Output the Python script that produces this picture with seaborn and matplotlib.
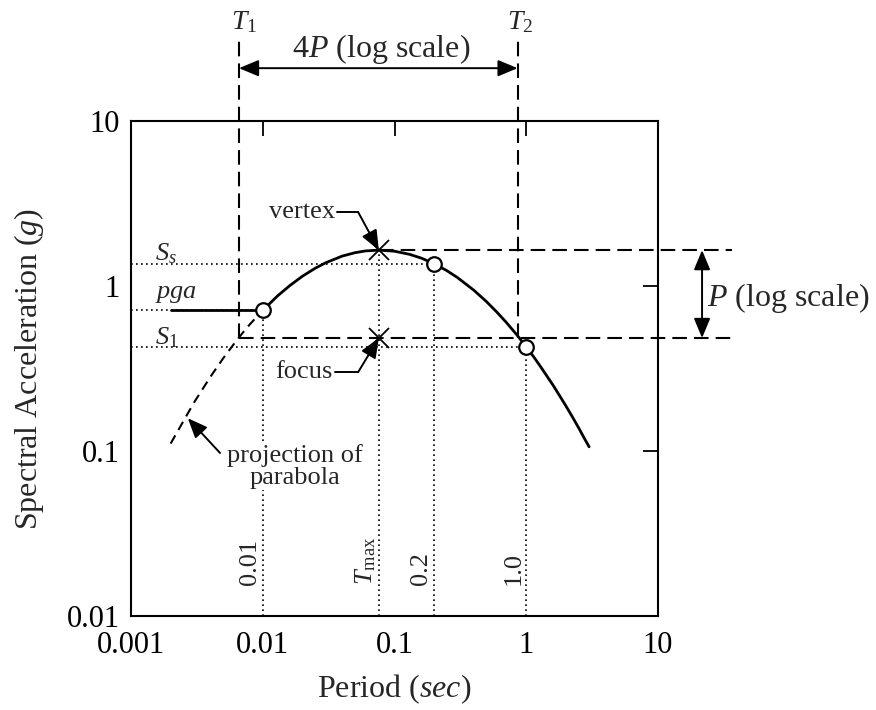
import matplotlib
matplotlib.use("Agg")
import matplotlib.pyplot as plt
import seaborn as sns

# ---------------- data ----------------
curve_T = [0.01, 0.013, 0.016, 0.02, 0.025, 0.03, 0.04, 0.05, 0.06, 0.076, 0.1,
           0.13, 0.16, 0.2, 0.25, 0.3, 0.4, 0.5, 0.6, 0.7, 0.85, 1.0, 1.15, 1.3,
           1.6, 1.8, 2.0, 2.25, 2.5, 2.75, 3.0]
curve_Sa = [0.712, 0.873, 1.004, 1.146, 1.281, 1.382, 1.517, 1.591, 1.631, 1.65, 1.625,
            1.556, 1.475, 1.365, 1.238, 1.126, 0.943, 0.803, 0.693, 0.606, 0.505, 0.428, 0.368, 0.320,
            0.250, 0.215, 0.1875, 0.160, 0.138, 0.120, 0.106]
proj_T = [0.002, 0.003, 0.004, 0.005, 0.006, 0.007, 0.008, 0.01]
proj_Sa = [0.111, 0.196, 0.281, 0.364, 0.442, 0.517, 0.587, 0.712]

pga_T = [0.002, 0.01]
pga = 0.712
Ss = 1.365
S1 = 0.428
circle_T = [0.01, 0.2, 1.0]
circle_Sa = [pga, Ss, S1]
Tmax = 0.076
Sa_max = 1.65
focus_Sa = 0.484
T1 = 0.0066
T2 = 0.86

xticks = [0.001, 0.01, 0.1, 1, 10]
xtick_labels = ["0.001", "0.01", "0.1", "1", "10"]
yticks = [0.01, 0.1, 1, 10]
ytick_labels = ["0.01", "0.1", "1", "10"]
period_marks = [0.01, Tmax, 0.2, 1.0]
period_labels = ["0.01", r"$T_{\rm max}$", "0.2", "1.0"]

# ---------------- style ----------------
sns.set_theme(style="white")
plt.rcParams["font.family"] = ["Liberation Serif", "DejaVu Serif"]
plt.rcParams["mathtext.fontset"] = "custom"
plt.rcParams["mathtext.rm"] = "Liberation Serif"
plt.rcParams["mathtext.it"] = "Liberation Serif:italic"
plt.rcParams["mathtext.bf"] = "Liberation Serif:bold"

fig = plt.figure(figsize=(8.76, 7.10), dpi=100)
ax = fig.add_axes([131 / 876, 94 / 710, 527 / 876, 495 / 710])
ax.set_xscale("log")
ax.set_yscale("log")
ax.set_xlim(0.001, 10)
ax.set_ylim(0.01, 10)

# dotted reference lines
dot = dict(color="black", lw=1.2, ls=(0, (1, 2)), zorder=2)
ax.plot([0.001, 0.2], [Ss, Ss], **dot)
ax.plot([0.001, 0.01], [pga, pga], **dot)
ax.plot([0.001, 1.0], [S1, S1], **dot)
for T, Sa in zip(period_marks, [pga, Sa_max, Ss, S1]):
    ax.plot([T, T], [0.01, Sa], **dot)

# dashed construction lines (extend outside the axes)
dash = dict(color="black", lw=1.5, ls=(0, (7, 3.4)), clip_on=False, zorder=2)
ax.plot([T1, T1], [focus_Sa, 31], **dash)
ax.plot([T2, T2], [focus_Sa, 31], **dash)
ax.plot([T1, 36.5], [focus_Sa, focus_Sa], **dash)
ax.plot([Tmax, 36.5], [Sa_max, Sa_max], **dash)

# spectrum curve
sns.lineplot(x=curve_T, y=curve_Sa, ax=ax, color="black", lw=2, sort=False,
             estimator=None, zorder=3)
ax.plot(proj_T, proj_Sa, color="black", lw=1.5, ls=(0, (4.5, 3)), zorder=3)
ax.plot(pga_T, [pga, pga], color="black", lw=2, zorder=3)

# markers
sns.scatterplot(x=circle_T, y=circle_Sa, ax=ax, marker="o", s=110, facecolor="white",
                edgecolor="black", linewidth=1.6, zorder=5)
ax.plot([Tmax, Tmax], [Sa_max, focus_Sa], ls="none", marker="x", ms=14, mew=1.3,
        color="black", zorder=6)

# axes formatting
ax.set_xticks(xticks)
ax.set_xticklabels(xtick_labels)
ax.set_yticks(yticks)
ax.set_yticklabels(ytick_labels)
ax.minorticks_off()
ax.tick_params(direction="in", length=11, width=1.3, top=True, right=True,
               labelsize=22, colors="black")
ax.tick_params(axis="x", pad=11)
ax.tick_params(axis="y", pad=8)
for s in ax.spines.values():
    s.set_linewidth(1.5)
    s.set_color("black")
ax.set_xlabel(r"Period ($sec$)", fontsize=23)
ax.set_ylabel(r"Spectral Acceleration ($g$)", fontsize=23)
ax.xaxis.set_label_coords(0.5, -0.115)
ax.yaxis.set_label_coords(-0.162, 0.5)

# labels along period lines
for T, lab in zip(period_marks, period_labels):
    ax.annotate(lab, xy=(T, 0.0154), xytext=(-13, 0), textcoords="offset pixels",
                rotation=90, ha="center", va="bottom", fontsize=19)

# level labels
ax.text(0.00152, 1.56, r"$S_s$", fontsize=19, ha="left", va="center")
ax.text(0.00152, 0.90, r"$pga$", fontsize=19, ha="left", va="center")
ax.text(0.00152, 0.484, r"$S_\mathit{1}$", fontsize=19, ha="left", va="center")

arrow = dict(arrowstyle="-|>,head_length=0.6,head_width=0.25", color="black",
             lw=1.4, shrinkA=0, shrinkB=0, mutation_scale=20)

# vertex and focus call-outs
ax.text(0.0353, 2.81, "vertex", fontsize=19, ha="right", va="center")
ax.plot([0.0365, 0.0529], [2.81, 2.81], color="black", lw=1.4)
ax.annotate("", xy=(Tmax, Sa_max), xytext=(0.0529, 2.81), arrowprops=arrow)
ax.text(0.0341, 0.30, "focus", fontsize=19, ha="right", va="center")
ax.plot([0.0352, 0.0529], [0.30, 0.30], color="black", lw=1.4)
ax.annotate("", xy=(Tmax, focus_Sa), xytext=(0.0529, 0.30), arrowprops=arrow)

# projection call-out
ax.text(0.0176, 0.0811, "projection of\nparabola", fontsize=19, ha="center",
        va="center", linespacing=1.0, zorder=4,
        bbox=dict(facecolor="white", edgecolor="none", pad=1))
ax.annotate("", xy=(0.0027, 0.158), xytext=(0.00474, 0.0973), arrowprops=arrow)

# width and height of the parabola (outside axes)
darrow = dict(arrowstyle="<|-|>,head_length=0.6,head_width=0.25", color="black",
              lw=1.4, shrinkA=0, shrinkB=0, mutation_scale=20)
ax.annotate("", xy=(T2, 20.9), xytext=(T1, 20.9), arrowprops=darrow,
            annotation_clip=False)
ax.text(0.079, 27.5, r"4$P$ (log scale)", fontsize=23, ha="center", va="center",
        clip_on=False)
ax.annotate("", xy=(21.6, focus_Sa), xytext=(21.6, Sa_max), arrowprops=darrow,
            annotation_clip=False)
ax.text(23.6, 0.84, r"$P$ (log scale)", fontsize=23, ha="left", va="center",
        clip_on=False)
ax.annotate(r"$T_1$", xy=(T1, 39.8), xytext=(5, 0), textcoords="offset pixels",
            ha="center", va="center", fontsize=20, annotation_clip=False)
ax.annotate(r"$T_2$", xy=(T2, 39.8), xytext=(2, 0), textcoords="offset pixels",
            ha="center", va="center", fontsize=20, annotation_clip=False)

fig.savefig("out.png", dpi=100, facecolor="white")
